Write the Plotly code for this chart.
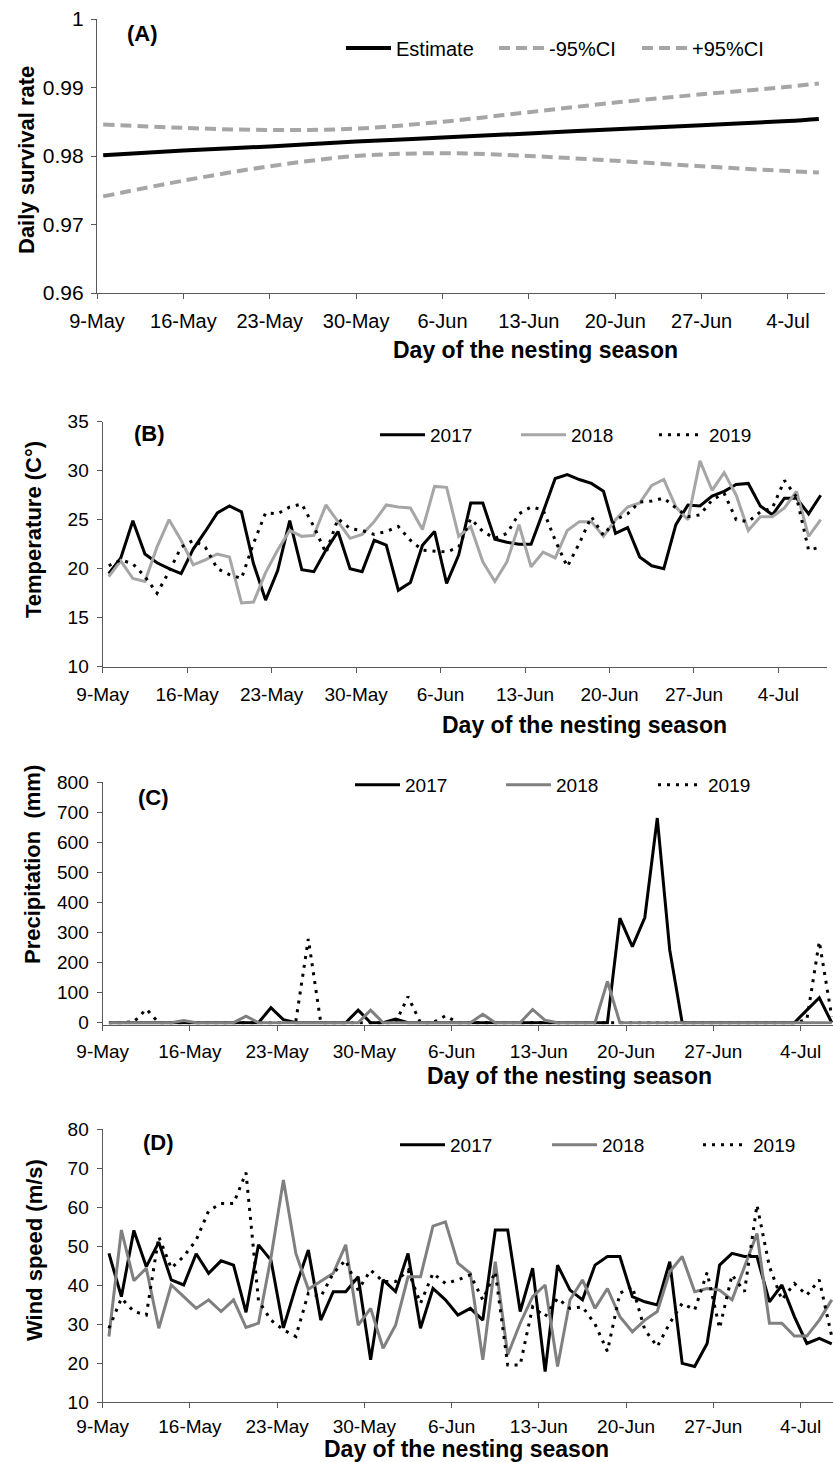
import plotly.graph_objects as go
import pandas as pd

W, H = 833, 1462

# ---------------- data ----------------
tick_labels = ["9-May", "16-May", "23-May", "30-May", "6-Jun", "13-Jun", "20-Jun", "27-Jun", "4-Jul"]
season_start = "2019-05-09"

# Panel A: daily survival rate (read at weekly nodes, days since 9-May)
dsr_days = [0.5, 7, 14, 21, 28, 35, 42, 49, 56, 58.5]
dsr_estimate = [0.9801, 0.9808, 0.9814, 0.9821, 0.9827, 0.9833, 0.9839, 0.9845, 0.9851, 0.9854]
dsr_lower = [0.9741, 0.9764, 0.9785, 0.9800, 0.9804, 0.9800, 0.9793, 0.9785, 0.9778, 0.9776]
dsr_upper = [0.9846, 0.9841, 0.9838, 0.9840, 0.9850, 0.9864, 0.9878, 0.9890, 0.9901, 0.9906]

# Panel B: temperature (60 days)
temp_2017 = [19.5, 21.1, 24.9, 21.5, 20.6, 20.0, 19.5, 22.0, 23.8, 25.7,
             26.4, 25.8, 20.5, 16.8, 19.8, 24.9, 19.9, 19.7, 21.9, 23.8,
             20.0, 19.7, 22.9, 22.4, 17.8, 18.6, 22.4, 23.8, 18.5, 21.4,
             26.7, 26.7, 23.0, 22.7, 22.5, 22.5, 25.8, 29.2, 29.6, 29.1,
             28.7, 27.9, 23.6, 24.2, 21.2, 20.3, 20.0, 24.5, 26.5, 26.4,
             27.4, 27.9, 28.6, 28.7, 26.4, 25.5, 27.2, 27.2, 25.6, 27.5]
temp_2018 = [19.2, 20.8, 19.0, 18.7, 22.2, 25.0, 22.9, 20.4, 20.9, 21.5,
             21.2, 16.5, 16.6, 19.6, 21.9, 23.9, 23.3, 23.4, 26.5, 24.8,
             23.1, 23.5, 24.8, 26.5, 26.3, 26.2, 24.0, 28.4, 28.3, 23.3,
             24.3, 20.7, 18.7, 20.7, 24.5, 20.2, 21.7, 21.1, 23.9, 24.8,
             24.8, 23.3, 25.0, 26.3, 26.7, 28.5, 29.1, 26.3, 25.0, 31.0,
             28.0, 29.8, 27.5, 23.9, 25.3, 25.3, 26.2, 27.9, 23.3, 25.0]
temp_2019 = [20.3, 20.9, 20.5, 19.2, 17.5, 19.7, 22.2, 22.9, 22.2, 20.0,
             19.4, 19.0, 22.6, 25.7, 25.6, 26.3, 26.6, 24.3, 21.6, 25.1,
             24.1, 23.9, 23.5, 23.8, 24.3, 22.9, 21.9, 21.8, 21.7, 22.2,
             25.1, 23.8, 23.1, 23.6, 25.6, 26.3, 26.0, 22.9, 20.2, 22.6,
             25.3, 23.4, 25.0, 25.6, 26.8, 26.9, 27.2, 26.2, 25.3, 25.5,
             27.0, 27.7, 25.0, 24.8, 25.8, 26.2, 29.0, 27.3, 21.9, 22.2]

# Panel C: precipitation (59 days)
precip_2017 = [0, 0, 0, 0, 0, 0, 0, 0, 0, 0,
               0, 0, 0, 50, 10, 0, 0, 0, 0, 0,
               42, 0, 0, 12, 0, 0, 0, 0, 0, 0,
               0, 0, 0, 0, 0, 0, 0, 0, 0, 0,
               0, 348, 253, 350, 681, 242, 0, 0, 0, 0,
               0, 0, 0, 0, 0, 0, 42, 83, 0]
precip_2018 = [0, 0, 0, 0, 0, 0, 7, 0, 0, 0,
               0, 22, 0, 0, 0, 0, 0, 0, 0, 0,
               0, 42, 0, 0, 0, 0, 0, 0, 0, 0,
               28, 0, 0, 0, 44, 8, 0, 0, 0, 0,
               137, 0, 0, 0, 0, 0, 0, 0, 0, 0,
               0, 0, 0, 0, 0, 0, 0, 0, 0]
precip_2019 = [0, 0, 3, 45, 0, 0, 0, 0, 0, 0,
               0, 0, 0, 0, 0, 6, 279, 0, 0, 0,
               0, 0, 0, 0, 87, 0, 0, 23, 0, 0,
               0, 0, 0, 0, 0, 0, 0, 0, 0, 0,
               0, 0, 0, 0, 0, 0, 0, 0, 0, 0,
               0, 0, 0, 0, 0, 0, 10, 270, 20]

# Panel D: wind speed (59 days)
wind_2017 = [48.1, 37.0, 54.0, 44.7, 51.0, 41.3, 40.0, 48.0, 43.0, 46.2,
             45.1, 33.0, 50.3, 46.4, 29.0, 39.6, 49.0, 31.0, 38.3, 38.3,
             42.1, 20.8, 41.3, 38.3, 48.1, 28.9, 39.1, 36.2, 32.3, 34.0,
             31.0, 54.1, 54.1, 33.2, 44.3, 17.8, 45.1, 38.7, 36.2, 45.1,
             47.3, 47.3, 37.0, 35.7, 34.9, 46.0, 19.9, 19.1, 25.0, 45.1,
             48.1, 47.3, 47.3, 35.7, 40.0, 31.9, 25.0, 26.3, 24.9]
wind_2018 = [26.8, 54.1, 41.1, 44.3, 28.9, 40.0, 37.0, 34.0, 36.2, 33.2,
             36.2, 29.1, 30.2, 47.0, 66.9, 48.1, 38.9, 40.9, 43.0, 50.3,
             29.7, 34.0, 23.8, 29.7, 42.1, 42.1, 55.1, 56.2, 45.6, 43.0,
             20.8, 46.0, 22.1, 30.2, 37.0, 40.0, 19.1, 36.2, 41.3, 34.0,
             39.1, 31.9, 28.0, 31.0, 33.2, 43.4, 47.3, 38.3, 39.1, 38.7,
             36.2, 44.7, 53.2, 30.2, 30.2, 26.9, 26.9, 31.0, 36.2]
wind_2019 = [28.9, 36.6, 33.2, 32.3, 52.4, 44.3, 47.3, 51.5, 59.0, 60.9,
             60.9, 68.8, 36.0, 31.0, 28.5, 26.8, 37.9, 37.0, 43.0, 46.4,
             38.7, 43.8, 40.9, 40.9, 43.8, 35.3, 43.0, 40.4, 41.3, 42.6,
             36.2, 43.4, 19.5, 19.5, 34.4, 31.9, 36.6, 34.0, 34.4, 30.0,
             23.0, 37.9, 39.6, 28.5, 24.2, 30.2, 35.3, 33.6, 43.2, 28.9,
             42.6, 38.3, 60.5, 44.7, 36.2, 40.4, 37.4, 41.3, 26.8]

# ---------------- helpers ----------------
t0 = pd.Timestamp(season_start)


def day(d):
    return t0 + pd.Timedelta(days=d)


def daily_x(n):
    # Excel-style "between tick marks": each day's point sits mid-day
    return [day(i + 0.5) for i in range(n)]


tick_vals = [day(7 * k) for k in range(len(tick_labels))]

SANS = "Liberation Sans, Arial, sans-serif"
AX = "#595959"
BLACK = "#000000"
LGRAY = "#A6A6A6"
MGRAY = "#808080"
DOT = "3px,6px"
DASH = "11px,6px"

fig = go.Figure()

# Panel A
xa = [day(d) for d in dsr_days]
fig.add_trace(go.Scatter(x=xa, y=dsr_estimate, name="Estimate", mode="lines", line_shape="spline",
                         line=dict(color=BLACK, width=4), xaxis="x", yaxis="y", legend="legend"))
fig.add_trace(go.Scatter(x=xa, y=dsr_lower, name="-95%CI", mode="lines", line_shape="spline",
                         line=dict(color=LGRAY, width=4, dash=DASH), xaxis="x", yaxis="y", legend="legend2"))
fig.add_trace(go.Scatter(x=xa, y=dsr_upper, name="+95%CI", mode="lines", line_shape="spline",
                         line=dict(color=LGRAY, width=4, dash=DASH), xaxis="x", yaxis="y", legend="legend3"))

# Panel B
xb = daily_x(len(temp_2017))
fig.add_trace(go.Scatter(x=xb, y=temp_2017, name="2017", mode="lines",
                         line=dict(color=BLACK, width=3), xaxis="x2", yaxis="y2", legend="legend4"))
fig.add_trace(go.Scatter(x=xb, y=temp_2018, name="2018", mode="lines",
                         line=dict(color=LGRAY, width=3), xaxis="x2", yaxis="y2", legend="legend5"))
fig.add_trace(go.Scatter(x=xb, y=temp_2019, name="2019", mode="lines",
                         line=dict(color=BLACK, width=3, dash=DOT), xaxis="x2", yaxis="y2", legend="legend6"))

# Panel C
xc = daily_x(len(precip_2017))
fig.add_trace(go.Scatter(x=xc, y=precip_2019, name="2019", mode="lines",
                         line=dict(color=BLACK, width=3, dash=DOT), xaxis="x3", yaxis="y3", legend="legend9"))
fig.add_trace(go.Scatter(x=xc, y=precip_2017, name="2017", mode="lines",
                         line=dict(color=BLACK, width=3), xaxis="x3", yaxis="y3", legend="legend7"))
fig.add_trace(go.Scatter(x=xc, y=precip_2018, name="2018", mode="lines",
                         line=dict(color=MGRAY, width=3), xaxis="x3", yaxis="y3", legend="legend8"))

# Panel D
xd = daily_x(len(wind_2017))
fig.add_trace(go.Scatter(x=xd, y=wind_2017, name="2017", mode="lines",
                         line=dict(color=BLACK, width=3), xaxis="x4", yaxis="y4", legend="legend10"))
fig.add_trace(go.Scatter(x=xd, y=wind_2018, name="2018", mode="lines",
                         line=dict(color=MGRAY, width=3), xaxis="x4", yaxis="y4", legend="legend11"))
fig.add_trace(go.Scatter(x=xd, y=wind_2019, name="2019", mode="lines",
                         line=dict(color=BLACK, width=3, dash=DOT), xaxis="x4", yaxis="y4", legend="legend12"))


def px_x(v):
    return v / W


def px_y(v):
    return 1 - v / H


def xaxis(dom, rng_days, font, standoff, anchor):
    return dict(domain=[px_x(dom[0]), px_x(dom[1])], range=[day(0), day(rng_days)], type="date",
                tickvals=tick_vals, ticktext=tick_labels, ticks="outside", ticklen=5, tickwidth=1.3,
                tickcolor=AX, showline=True, linecolor=AX, linewidth=1.3, showgrid=False, zeroline=False,
                tickfont=font, ticklabelstandoff=standoff, anchor=anchor, automargin=False, fixedrange=True)


def yaxis(dom, rng, dtick, font, anchor, standoff=4):
    return dict(domain=[px_y(dom[1]), px_y(dom[0])], range=rng, tick0=0, dtick=dtick, ticks="outside",
                ticklen=5, tickwidth=1.3, tickcolor=AX, showline=True, linecolor=AX, linewidth=1.3,
                showgrid=False, zeroline=False, tickfont=font, anchor=anchor, ticklabelstandoff=standoff,
                automargin=False, fixedrange=True)


fa = dict(family=SANS, size=20, color="black")
fb = dict(family=SANS, size=19, color="black")

layout = dict(
    width=W, height=H, margin=dict(l=0, r=0, t=0, b=0, pad=0), autosize=False,
    paper_bgcolor="white", plot_bgcolor="white", showlegend=True,
    xaxis=xaxis((97, 825), 59, fa, 5, "y"),
    yaxis=dict(yaxis((19, 293), [0.96, 1.0], 0.01, dict(family=SANS, size=21, color="black"), "x", 3),
               tickvals=[0.96, 0.97, 0.98, 0.99, 1.0], ticktext=["0.96", "0.97", "0.98", "0.99", "1"]),
    xaxis2=xaxis((102.7, 826.7), 60, fb, 5, "y2"),
    yaxis2=yaxis((421.7, 666.7), [10, 35], 5, fb, "x2"),
    xaxis3=xaxis((102.7, 833), 58.6, fb, 5, "y3"),
    yaxis3=yaxis((782.3, 1024.5), [-6, 800], 100, fb, "x3"),
    xaxis4=xaxis((102.7, 833), 58.6, fb, 2, "y4"),
    yaxis4=yaxis((1129, 1402), [10, 80], 10, fb, "x4"),
)

# one legend per entry, placed like the reference's horizontal legends (text start x, centre y)
ITEMW = 45
lf_a = dict(family=SANS, size=20)
lf_b = dict(family=SANS, size=19)
legend_spots = {
    "legend": (396, 48, lf_a), "legend2": (549, 48, lf_a), "legend3": (692, 48, lf_a),
    "legend4": (430, 435, lf_b), "legend5": (571, 435, lf_b), "legend6": (709, 435, lf_b),
    "legend7": (405, 785, lf_b), "legend8": (556, 785, lf_b), "legend9": (708, 785, lf_b),
    "legend10": (450, 1145, lf_b), "legend11": (602, 1145, lf_b), "legend12": (753, 1145, lf_b),
}
for key, (lx, ly, lf) in legend_spots.items():
    layout[key] = dict(x=px_x(lx - 10 - ITEMW), y=px_y(ly), xanchor="left", yanchor="middle",
                       orientation="h", bgcolor="rgba(0,0,0,0)", borderwidth=0, itemwidth=ITEMW,
                       font={**lf, "color": "black"}, itemclick=False, itemdoubleclick=False)

fig.update_layout(**layout)

ann = []


def text(t, x, y, font, angle=0):
    ann.append(dict(text=t, x=px_x(x), y=px_y(y), xref="paper", yref="paper", showarrow=False,
                    xanchor="center", yanchor="middle", textangle=angle, font=font))


tx = dict(family=SANS, size=23, color="black")
ty = dict(family=SANS, size=22, color="black")
tp = dict(family=SANS, size=22, color="black")

text("<b>(A)</b>", 142, 33, tp)
text("<b>Day of the nesting season</b>", 535, 350, tx)
text("<b>Daily survival rate</b>", 26, 160, ty, -90)

text("<b>(B)</b>", 149, 434, tp)
text("<b>Day of the nesting season</b>", 584, 725, tx)
text("<b>Temperature (C°)</b>", 34, 530, ty, -90)

text("<b>(C)</b>", 153, 798, tp)
text("<b>Day of the nesting season</b>", 569, 1076, tx)
text("<b>Precipitation\u00a0 (mm)</b>", 32, 865, ty, -90)

text("<b>(D)</b>", 158, 1142, tp)
text("<b>Day of the nesting season</b>", 466, 1449, tx)
text("<b>Wind speed (m/s)</b>", 34, 1250, ty, -90)

fig.update_layout(annotations=ann)

fig.write_html("out.html")
